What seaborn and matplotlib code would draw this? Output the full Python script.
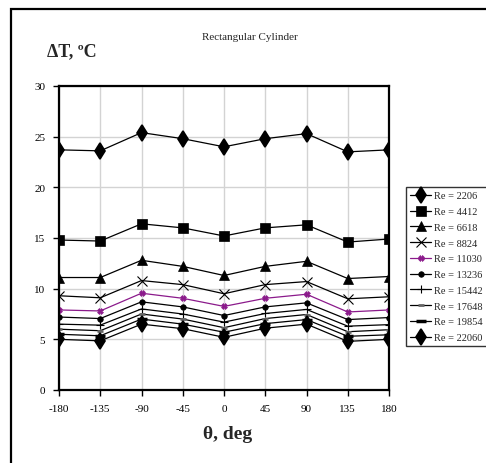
import matplotlib
matplotlib.use("Agg")
import matplotlib.pyplot as plt
import matplotlib.patches as mpatches
import seaborn as sns
import pandas as pd

theta = [-180, -135, -90, -45, 0, 45, 90, 135, 180]
re_labels = ["Re = 2206", "Re = 4412", "Re = 6618", "Re = 8824", "Re = 11030",
             "Re = 13236", "Re = 15442", "Re = 17648", "Re = 19854", "Re = 22060"]
re_2206 = [23.7, 23.6, 25.4, 24.8, 24.0, 24.8, 25.3, 23.5, 23.7]
re_4412 = [14.8, 14.7, 16.4, 16.0, 15.2, 16.0, 16.3, 14.6, 14.9]
re_6618 = [11.1, 11.1, 12.8, 12.2, 11.3, 12.2, 12.7, 11.0, 11.2]
re_8824 = [9.3, 9.1, 10.8, 10.4, 9.5, 10.4, 10.7, 9.0, 9.2]
re_11030 = [7.9, 7.8, 9.55, 9.05, 8.25, 9.05, 9.45, 7.7, 7.9]
re_13236 = [7.2, 7.05, 8.7, 8.2, 7.35, 8.2, 8.6, 6.95, 7.15]
re_15442 = [6.5, 6.4, 8.0, 7.5, 6.7, 7.55, 7.95, 6.3, 6.45]
re_17648 = [6.0, 5.85, 7.5, 7.0, 6.15, 7.05, 7.45, 5.75, 5.95]
re_19854 = [5.5, 5.35, 7.0, 6.5, 5.7, 6.55, 6.95, 5.3, 5.45]
re_22060 = [5.0, 4.85, 6.5, 6.05, 5.2, 6.1, 6.5, 4.8, 5.0]
x_ticks = [-180, -135, -90, -45, 0, 45, 90, 135, 180]
y_ticks = [0, 5, 10, 15, 20, 25, 30]

series = [re_2206, re_4412, re_6618, re_8824, re_11030,
          re_13236, re_15442, re_17648, re_19854, re_22060]
rows = []
for lab, vals in zip(re_labels, series):
    for t, v in zip(theta, vals):
        rows.append({"theta": t, "dT": v, "Re": lab})
df = pd.DataFrame(rows)

sns.set_style("white")
plt.rcParams["font.family"] = ["Liberation Serif", "DejaVu Serif"]

styles = {
    "Re = 2206": dict(marker="d", markersize=8, color="black", mfc="black", mec="black", mew=1.2),
    "Re = 4412": dict(marker="s", markersize=6.5, color="black", mfc="black", mec="black", mew=0.5),
    "Re = 6618": dict(marker="^", markersize=7, color="black", mfc="black", mec="black", mew=0.5),
    "Re = 8824": dict(marker="x", markersize=7, color="black", mfc="black", mec="black", mew=0.8),
    "Re = 11030": dict(marker="X", markersize=4, color="#8B1A8B", mfc="#8B1A8B", mec="#8B1A8B", mew=0.5),
    "Re = 13236": dict(marker="o", markersize=4, color="black", mfc="black", mec="black", mew=0.5),
    "Re = 15442": dict(marker="+", markersize=6, color="black", mfc="black", mec="black", mew=0.8),
    "Re = 17648": dict(marker="_", markersize=5, color="black", mfc="#666666", mec="#666666", mew=2),
    "Re = 19854": dict(marker="_", markersize=7, color="black", mfc="black", mec="black", mew=2.5),
    "Re = 22060": dict(marker="d", markersize=8, color="black", mfc="black", mec="black", mew=1.2),
}

fig = plt.figure(figsize=(4.86, 4.64), dpi=100)
ax = fig.add_axes([59/486, 1 - 391/464, 330/486, 304/464])

for lab in re_labels:
    st = styles[lab]
    sub = df[df["Re"] == lab]
    sns.lineplot(data=sub, x="theta", y="dT", ax=ax, color=st["color"],
                 marker=st["marker"], markersize=st["markersize"],
                 markerfacecolor=st["mfc"], markeredgecolor=st["mec"],
                 markeredgewidth=st["mew"], linewidth=0.9, label=lab,
                 errorbar=None, sort=False)

ax.set_xlim(-180, 180)
ax.set_ylim(0, 30)
ax.set_xticks(x_ticks)
ax.set_yticks(y_ticks)
ax.set_xticklabels([str(v) for v in x_ticks])
ax.set_yticklabels([str(v) for v in y_ticks])
ax.tick_params(axis="both", labelsize=8, direction="out", length=4, width=1,
               colors="black", pad=6, bottom=True, left=True)
ax.grid(True, color="#d3d3d3", linewidth=1)
ax.set_axisbelow(True)
for s in ax.spines.values():
    s.set_color("black")
    s.set_linewidth(1.6)
ax.set_xlabel("")
ax.set_ylabel("")

fig.text(250/486, 1 - 37/464, "Rectangular Cylinder", ha="center", va="center", fontsize=8)
fig.text(47/486, 1 - 52/464, "\u0394T, \u00baC", ha="left", va="center", fontsize=13, fontweight="bold")
fig.text(228/486, 1 - 435/464, "\u03b8, deg", ha="center", va="center", fontsize=14, fontweight="bold")

leg = ax.legend(loc="upper left", bbox_to_anchor=(406/486, 1 - 188/464),
                bbox_transform=fig.transFigure, frameon=True, fancybox=False,
                fontsize=7.5, handlelength=2.0, handletextpad=0.3,
                labelspacing=0.62, borderpad=0.4, borderaxespad=0)
leg.get_frame().set_edgecolor("black")
leg.get_frame().set_linewidth(1)

fig.patches.append(mpatches.Rectangle((11/486, -0.1), 1.2, 1.1 - 10/464,
                                      transform=fig.transFigure, fill=False,
                                      edgecolor="black", linewidth=1.6))

fig.savefig("out.png", dpi=100, facecolor="white")
